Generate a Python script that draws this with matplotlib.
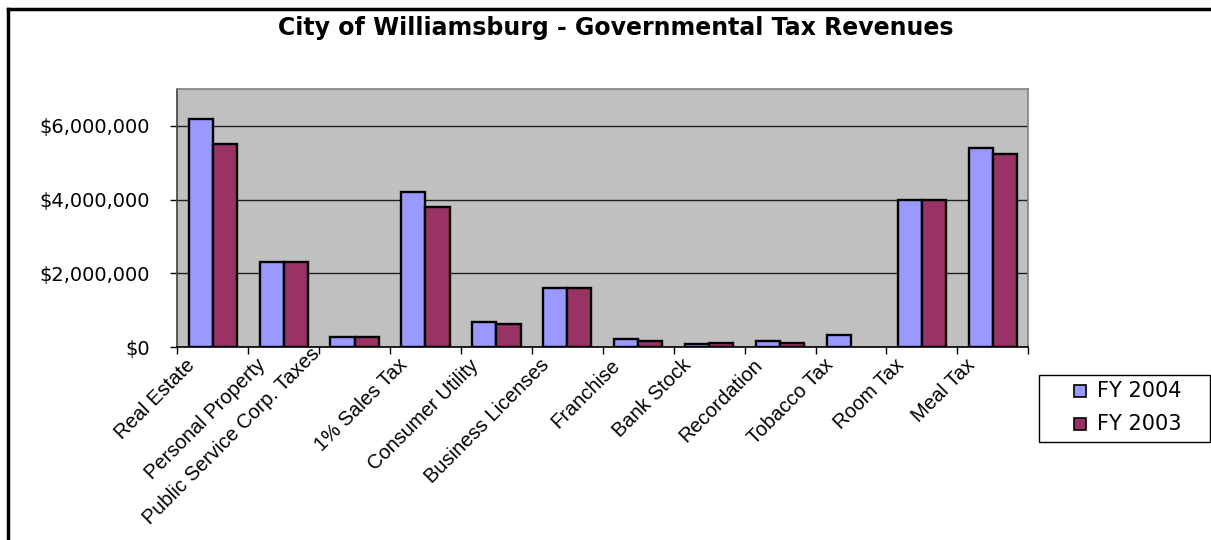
import matplotlib
matplotlib.use("Agg")
import matplotlib.pyplot as plt
import matplotlib.transforms as mtransforms
from matplotlib.ticker import FuncFormatter, FixedLocator
from matplotlib.lines import Line2D
from matplotlib.patches import Rectangle
import numpy as np

categories = ["Real Estate", "Personal Property", "Public Service Corp. Taxes",
              "1% Sales Tax", "Consumer Utility", "Business Licenses", "Franchise",
              "Bank Stock", "Recordation", "Tobacco Tax", "Room Tax", "Meal Tax"]
fy2004 = [6180000, 2320000, 270000, 4220000, 690000, 1610000, 230000,
          90000, 180000, 320000, 3980000, 5390000]
fy2003 = [5520000, 2320000, 270000, 3810000, 640000, 1610000, 180000,
          125000, 125000, 0, 3980000, 5250000]
series_names = ["FY 2004", "FY 2003"]
series_colors = ["#9999FF", "#993366"]
yticks = [0, 2000000, 4000000, 6000000]

plt.rcParams['font.family'] = ['Liberation Sans', 'DejaVu Sans']

W, H = 1211, 540
fig = plt.figure(figsize=(W / 100, H / 100), dpi=100)
ax = fig.add_axes([0.1464, 0.3569, 0.8491 - 0.1464, 0.8352 - 0.3569])
ax.set_facecolor("#C0C0C0")

x = np.arange(len(categories))
w = 0.34
for vals, off, col in [(fy2004, -w / 2, series_colors[0]), (fy2003, w / 2, series_colors[1])]:
    lws = [1.7 if v > 0 else 0 for v in vals]
    ax.bar(x + off, vals, width=w, color=col, edgecolor="black", linewidth=lws, zorder=3)

ax.set_xlim(-0.5, len(categories) - 0.5)
ax.set_ylim(0, 7000000)
ax.set_yticks(yticks)
ax.yaxis.set_major_formatter(FuncFormatter(lambda v, p: "${:,.0f}".format(v)))
ax.grid(axis="y", color="#202020", linewidth=1.0, zorder=1)
ax.tick_params(axis="y", direction="out", length=5, width=1, pad=15)
for lbl in ax.get_yticklabels():
    lbl.set_fontfamily("DejaVu Sans")
    lbl.set_fontsize(14)

ax.set_xticks(x)
ax.set_xticklabels(categories, rotation=45, ha="right", rotation_mode="anchor", fontsize=14.5)
ax.tick_params(axis="x", which="major", length=0, pad=6)
ax.xaxis.set_minor_locator(FixedLocator(np.arange(-0.5, len(categories), 1.0)))
ax.tick_params(axis="x", which="minor", direction="out", length=5, width=1)
for i, lbl in enumerate(ax.get_xticklabels()):
    dx, dy = -20, 0
    if i == 2:
        dx, dy = -32, 8
    o = mtransforms.ScaledTranslation(dx / 72, dy / 72, fig.dpi_scale_trans)
    lbl.set_transform(lbl.get_transform() + o)

for side in ["top", "right"]:
    ax.spines[side].set_color("#808080")
    ax.spines[side].set_linewidth(1.2)
ax.spines["left"].set_color("#404040")
ax.spines["bottom"].set_color("black")
ax.spines["left"].set_linewidth(1.2)
ax.spines["bottom"].set_linewidth(1.2)

fig.text(615.5 / W, 1 - 28 / H, "City of Williamsburg - Governmental Tax Revenues",
         ha="center", va="center", fontsize=17, fontweight="bold", family="DejaVu Sans")

# legend drawn manually to match the reference box
fig.add_artist(Rectangle((1039 / W, 1 - 442 / H), (1210 - 1039) / W, (442 - 375) / H,
                         transform=fig.transFigure, facecolor="white", edgecolor="black",
                         linewidth=1.0))
for k, (name, col) in enumerate(zip(series_names, series_colors)):
    yc = 391 + k * 33
    fig.add_artist(Rectangle((1074 / W, 1 - (yc + 6) / H), 12 / W, 12 / H,
                             transform=fig.transFigure, facecolor=col, edgecolor="black",
                             linewidth=1.2))
    fig.text(1097 / W, 1 - yc / H, name, ha="left", va="center", fontsize=15,
             family="DejaVu Sans")

fig.add_artist(Line2D([8 / W, 1.0], [1 - 9 / H, 1 - 9 / H], color="black", linewidth=2.5,
                      transform=fig.transFigure))
fig.add_artist(Line2D([8 / W, 8 / W], [1 - 9 / H, 0], color="black", linewidth=2.5,
                      transform=fig.transFigure))

fig.savefig("out.png", dpi=100)
